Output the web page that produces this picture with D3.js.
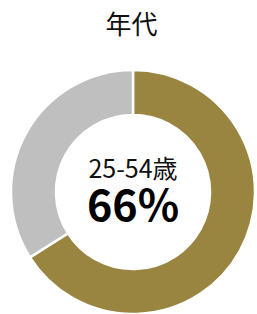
<!DOCTYPE html>
<html>
<head>
<meta charset="utf-8">
<script src="https://cdn.jsdelivr.net/npm/d3@7"></script>
<style>
  html, body { margin: 0; padding: 0; background: #fff; }
  svg { display: block; font-family: "Noto Sans CJK JP", "Noto Sans", sans-serif; }
</style>
</head>
<body>
<div id="chart"></div>
<script>
// data
const title = '年代';
const labels = ['25-54歳', 'その他'];
const values = [66, 34];
const colors = ['#9a8540', '#bfbfbf'];

const width = 257, height = 314;
const cx = 133, cy = 192;
const outerR = 122, innerR = 77;

const svg = d3.select('#chart').append('svg')
  .attr('width', width)
  .attr('height', height);

svg.append('text')
  .attr('x', 131.5)
  .attr('y', 34)
  .attr('text-anchor', 'middle')
  .style('font-size', '26px')
  .attr('fill', '#111')
  .text(title);

const pie = d3.pie().sort(null).value(d => d);
const arc = d3.arc().innerRadius(innerR).outerRadius(outerR);

const g = svg.append('g')
  .attr('transform', 'translate(' + cx + ',' + cy + ')');

g.selectAll('path')
  .data(pie(values))
  .enter().append('path')
  .attr('d', arc)
  .attr('fill', (d, i) => colors[i])
  .attr('stroke', '#fff')
  .attr('stroke-width', 2.5);

g.append('text')
  .attr('y', -14)
  .attr('text-anchor', 'middle')
  .style('font-size', '25px')
  .attr('fill', '#111')
  .text(labels[0]);

g.append('text')
  .attr('y', 29)
  .attr('text-anchor', 'middle')
  .style('font-size', '43px')
  .style('font-weight', 'bold')
  .attr('fill', '#000')
  .text(values[0] + '%');
</script>
</body>
</html>
